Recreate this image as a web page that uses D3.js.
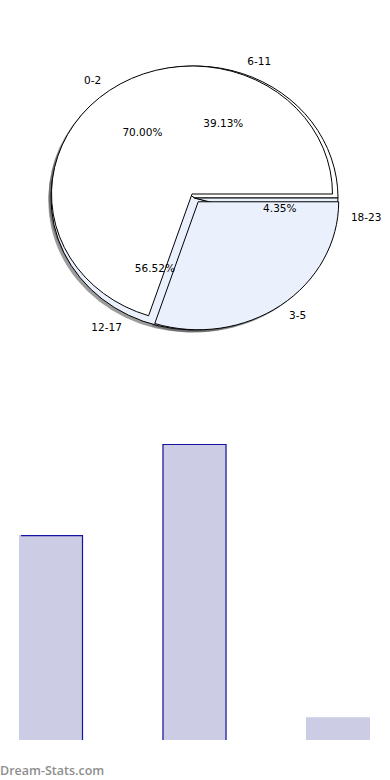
<!DOCTYPE html>
<html>
<head>
<meta charset="utf-8">
<script src="https://cdn.jsdelivr.net/npm/d3@7"></script>
<style>
body { margin: 0; background: #fff; }
svg { display: block; }
text { font-family: "DejaVu Sans", sans-serif; }
</style>
</head>
<body>
<script>
// two pies drawn into the same axes, then a bar chart of the second group
const groupsA = ['0-2', '3-5']
const countsA = [7, 3]
const explodeA = [0, 0.075]

const groupsB = ['6-11', '12-17', '18-23']
const countsB = [9, 13, 1]
const explodeB = [0, 0, 0]

const noPct = ['3-5']

const barGroups = groupsB
const barCounts = countsB

const width = 390, height = 780
const white = '#ffffff', blue = '#eaf0fc'

const svg = d3.select('body').append('svg')
	.attr('width', width).attr('height', height)

const defs = svg.append('defs')
defs.append('filter').attr('id', 'soft')
	.append('feGaussianBlur').attr('stdDeviation', 0.7)

const pieA = {cx: 192, cy: 194, rx: 140.5, ry: 128}
const pieB = {cx: 194.5, cy: 198, rx: 143.5, ry: 132}

// start at 3 o'clock and go counter-clockwise
let layout = d3.pie().sort(null).value(d => d.v)
	.startAngle(Math.PI/2).endAngle(Math.PI/2 - 2*Math.PI)

let wedges = function(geo, names, vals, expl, colors) {
	let data = names.map((n, i) => ({name: n, v: vals[i], e: expl[i], fill: colors[i]}))
	let arcs = layout(data)
	arcs.forEach(a => {
		a.mid = (a.startAngle + a.endAngle)/2
		a.ox = a.data.e * geo.rx * Math.sin(a.mid)
		a.oy = -a.data.e * geo.ry * Math.cos(a.mid)
		a.geo = geo
	})
	return arcs
}

let arcsB = wedges(pieB, groupsB, countsB, explodeB, [white, blue, blue])
let arcsA = wedges(pieA, groupsA, countsA, explodeA, [white, blue])
let all = arcsB.concat(arcsA)

let place = function(a, f) {
	let g = a.geo
	return [g.cx + a.ox + f*g.rx*Math.sin(a.mid), g.cy + a.oy - f*g.ry*Math.cos(a.mid)]
}
let pathOf = a => d3.arc().innerRadius(0).outerRadius(a.geo.rx)(a)
let tf = (a, dx, dy) => `translate(${a.geo.cx + a.ox + dx},${a.geo.cy + a.oy + dy}) scale(1,${a.geo.ry/a.geo.rx})`

// shadows sit under every wedge
svg.append('g').selectAll('path').data(all).join('path')
	.attr('d', pathOf)
	.attr('transform', a => tf(a, -2.8, 2.6))
	.attr('fill', '#4d4d4d').attr('fill-opacity', 0.55)
	.attr('filter', 'url(#soft)')

svg.append('g').selectAll('path').data(all).join('path')
	.attr('d', pathOf)
	.attr('transform', a => tf(a, 0, 0))
	.attr('fill', a => a.data.fill)
	.attr('stroke', '#000').attr('stroke-width', 1)
	.attr('vector-effect', 'non-scaling-stroke')
	.attr('stroke-linejoin', 'round')

svg.append('g').selectAll('text.lab').data(all).join('text')
	.attr('class', 'lab')
	.attr('x', a => place(a, 1.1)[0])
	.attr('y', a => place(a, 1.1)[1])
	.attr('dy', '0.35em')
	.attr('text-anchor', a => Math.sin(a.mid) > 0 ? 'start' : 'end')
	.attr('font-size', 10.5)
	.text(a => a.data.name)

svg.append('g').selectAll('text.pct').data(all.filter(a => !noPct.includes(a.data.name))).join('text')
	.attr('class', 'pct')
	.attr('x', a => place(a, 0.6)[0])
	.attr('y', a => place(a, 0.6)[1])
	.attr('dy', '0.35em')
	.attr('text-anchor', 'middle')
	.attr('font-size', 10.5)
	.text(a => {
		let vals = groupsA.includes(a.data.name) ? countsA : countsB
		return (100*a.data.v/d3.sum(vals)).toFixed(2) + '%'
	})

// bar chart
let x = d3.scaleBand().domain(barGroups).range([19, 370]).paddingInner(0.554).paddingOuter(0)
let y = d3.scaleLinear().domain([0, d3.max(barCounts)]).range([740, 444])

svg.append('g').selectAll('rect').data(barCounts).join('rect')
	.attr('x', (d, i) => x(barGroups[i]))
	.attr('y', d => y(d))
	.attr('width', x.bandwidth())
	.attr('height', d => y(0) - y(d))
	.attr('fill', '#ccccE4')

defs.append('clipPath').attr('id', 'plot')
	.append('rect').attr('x', 21).attr('y', 0).attr('width', 370).attr('height', y(0))

// outline only shows on the taller bars
svg.append('g').attr('clip-path', 'url(#plot)')
	.selectAll('path').data(barCounts.slice(0, -1)).join('path')
	.attr('d', (d, i) => {
		let x0 = x(barGroups[i]) + 0.5, x1 = x0 + x.bandwidth() - 1
		return `M${x0},${y(0)}V${y(d) + 0.5}H${x1}V${y(0)}`
	})
	.attr('fill', 'none')
	.attr('stroke', '#1414a0').attr('stroke-width', 1.2)

svg.append('text')
	.attr('x', 0).attr('y', 775)
	.style('font-family', '"Open Sans", sans-serif')
	.attr('font-weight', 600)
	.attr('font-size', 12.5)
	.attr('fill', '#8e8e8e')
	.text('Dream-Stats.com')
</script>
</body>
</html>
